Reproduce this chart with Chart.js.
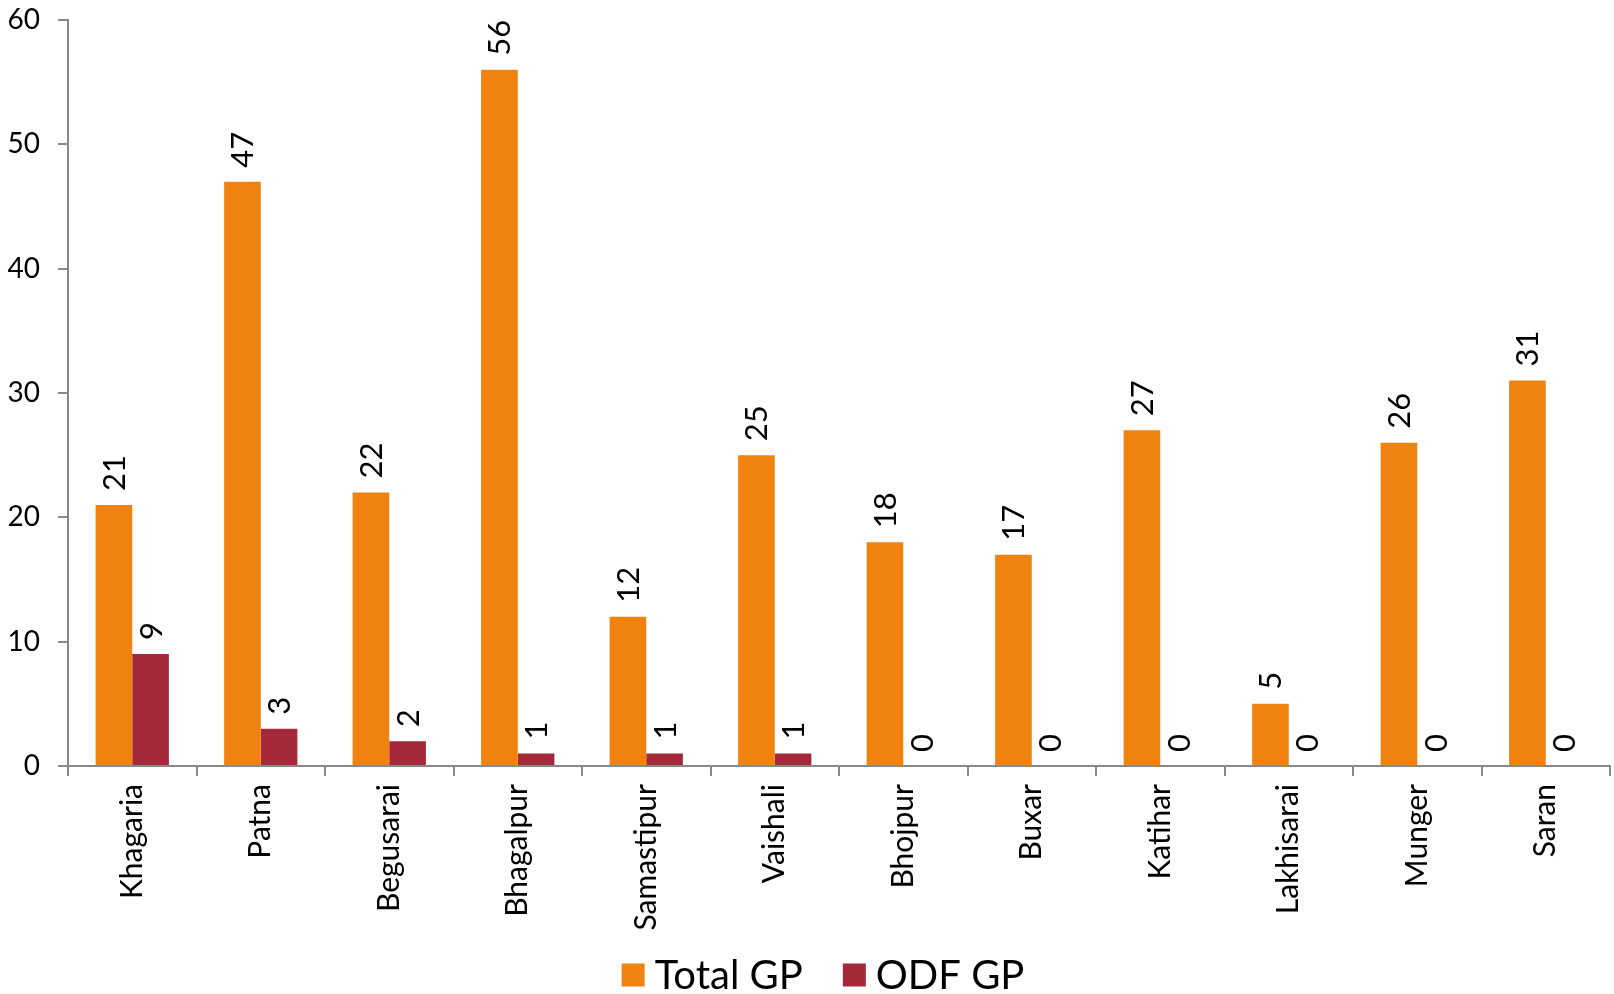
<!DOCTYPE html>
<html>
<head>
<meta charset="utf-8">
<script src="https://cdn.jsdelivr.net/npm/chart.js@4.4.0/dist/chart.umd.min.js"></script>
<style>
html,body{margin:0;padding:0;background:#fff;}
#wrap{width:1614px;height:994px;}
</style>
</head>
<body>
<div id="wrap"><canvas id="c"></canvas></div>
<script>
const categories = ["Khagaria","Patna","Begusarai","Bhagalpur","Samastipur","Vaishali","Bhojpur","Buxar","Katihar","Lakhisarai","Munger","Saran"];
const totalGP = [21,47,22,56,12,25,18,17,27,5,26,31];
const odfGP = [9,3,2,1,1,1,0,0,0,0,0,0];
const yTicks = [0,10,20,30,40,50,60];

const FONT = "Lato, 'Open Sans', sans-serif";
const AXIS = "#898989";

const valueLabels = {
  id: 'valueLabels',
  afterDatasetsDraw(chart) {
    const ctx = chart.ctx;
    ctx.save();
    ctx.font = "31px " + FONT;
    ctx.fillStyle = "#000";
    ctx.textAlign = "left";
    ctx.textBaseline = "middle";
    chart.data.datasets.forEach((ds, i) => {
      const meta = chart.getDatasetMeta(i);
      meta.data.forEach((el, j) => {
        ctx.save();
        ctx.translate(el.x, el.y - 14);
        ctx.rotate(-Math.PI / 2);
        ctx.fillText(String(ds.data[j]), 0, 1);
        ctx.restore();
      });
    });
    ctx.restore();
  }
};

const bottomLegend = {
  id: 'bottomLegend',
  afterDraw(chart) {
    const ctx = chart.ctx;
    const box = 23, gapText = 10, gapItem = 40;
    ctx.save();
    ctx.font = "40px " + FONT;
    ctx.textBaseline = "middle";
    ctx.textAlign = "left";
    const items = chart.data.datasets.map(ds => ({ label: ds.label, color: ds.backgroundColor, w: ctx.measureText(ds.label).width }));
    let total = 0;
    items.forEach((it, i) => { total += box + gapText + it.w + (i ? gapItem : 0); });
    const cy = chart.height - 19;
    let x = chart.width / 2 + 16 - total / 2;
    items.forEach(it => {
      ctx.fillStyle = it.color;
      ctx.fillRect(x, cy - box / 2, box, box);
      x += box + gapText;
      ctx.fillStyle = "#000";
      ctx.fillText(it.label, x, cy + 1);
      x += it.w + gapItem;
    });
    ctx.restore();
  }
};

new Chart(document.getElementById('c'), {
  type: 'bar',
  data: {
    labels: categories,
    datasets: [
      { label: 'Total GP', data: totalGP, backgroundColor: '#F0820F', borderWidth: 0 },
      { label: 'ODF GP', data: odfGP, backgroundColor: '#A2283A', borderWidth: 0 }
    ]
  },
  options: {
    responsive: true,
    maintainAspectRatio: false,
    animation: false,
    devicePixelRatio: 1,
    layout: { padding: { top: 20, right: 4, left: 0, bottom: 62 } },
    datasets: { bar: { barPercentage: 1, categoryPercentage: 0.57 } },
    plugins: {
      legend: { display: false },
      tooltip: { enabled: false }
    },
    scales: {
      x: {
        offset: true,
        border: { display: true, color: AXIS, width: 2 },
        grid: { display: true, drawOnChartArea: false, drawTicks: true, tickLength: 10, color: AXIS, lineWidth: 2, offset: true },
        ticks: { font: { family: FONT, size: 30 }, color: '#000', maxRotation: 90, minRotation: 90, padding: 8, autoSkip: false },
        afterFit(scale) { scale.height = 166; scale.paddingLeft = 0; scale.paddingRight = 0; }
      },
      y: {
        min: 0, max: 60,
        border: { display: true, color: AXIS, width: 2 },
        grid: { display: true, drawOnChartArea: false, drawTicks: true, tickLength: 10, color: AXIS, lineWidth: 2 },
        afterBuildTicks(scale) { scale.ticks = yTicks.map(v => ({ value: v })); },
        ticks: { font: { family: FONT, size: 28 }, color: '#000', padding: 18 },
        afterFit(scale) { scale.width = 68; scale.paddingTop = 0; scale.paddingBottom = 0; }
      }
    }
  },
  plugins: [valueLabels, bottomLegend]
});
</script>
</body>
</html>
